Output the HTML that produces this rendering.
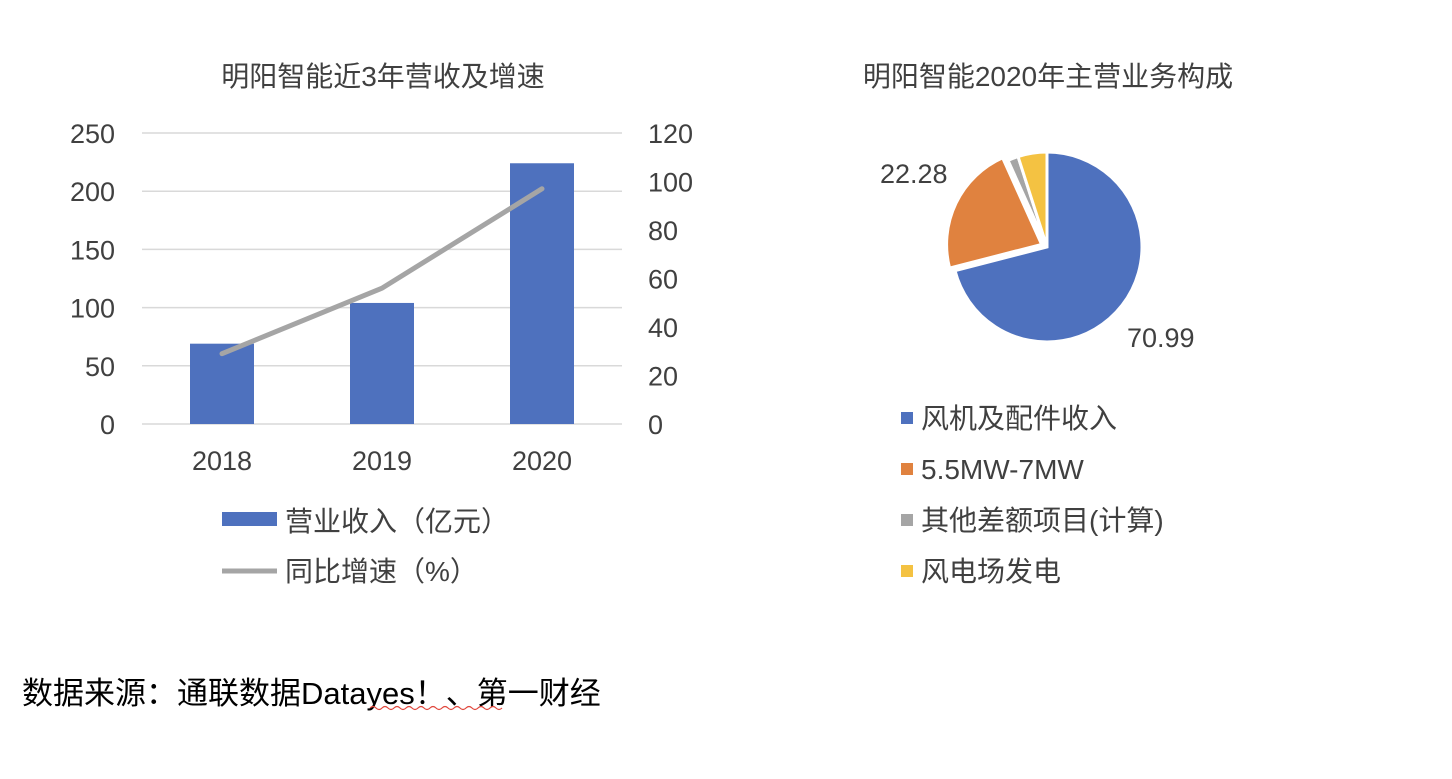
<!DOCTYPE html>
<html><head><meta charset="utf-8"><style>
body{margin:0;background:#fff;width:1452px;height:774px;overflow:hidden;font-family:"Liberation Sans","Noto Sans CJK SC",sans-serif;}
svg text{font-family:"Liberation Sans","Noto Sans CJK SC",sans-serif;fill:#404040;}
</style></head><body>
<svg width="1452" height="774">
<text x="383" y="86" font-size="28" text-anchor="middle">明阳智能近3年营收及增速</text>
<g id="bars"></g>
<g>
<rect x="222" y="512" width="55" height="14" fill="#4E71BE"/>
<text x="285" y="531" font-size="28">营业收入（亿元）</text>
<line x1="222" y1="571" x2="277" y2="571" stroke="#A5A5A5" stroke-width="5"/>
<text x="285" y="581" font-size="28">同比增速（%）</text>
</g>
<text x="1048" y="86" font-size="28" text-anchor="middle">明阳智能2020年主营业务构成</text>
<g id="pie"></g>
<g>
<rect x="901" y="412" width="12" height="12" fill="#4E71BE"/>
<text x="921" y="428" font-size="28">风机及配件收入</text>
<rect x="901" y="463" width="12" height="12" fill="#E0823F"/>
<text x="921" y="479" font-size="28">5.5MW-7MW</text>
<rect x="901" y="514" width="12" height="12" fill="#A5A5A5"/>
<text x="921" y="530" font-size="28">其他差额项目(计算)</text>
<rect x="901" y="565" width="12" height="12" fill="#F4C242"/>
<text x="921" y="581" font-size="28">风电场发电</text>
</g>
<text x="22" y="704" font-size="31" fill="#000" style="fill:#000">数据来源：通联数据Datayes！、第一财经</text>
<path d="M370 708 q3 -3 6 0 t6 0 t6 0 t6 0 t6 0 t6 0 t6 0 t6 0 t6 0 t6 0 t6 0 t6 0 t6 0 t6 0 t6 0 t6 0 t6 0 t6 0 t6 0 t6 0 t6 0 t6 0" stroke="#E0453A" fill="none" stroke-width="1.2"/>
</svg>
<script>
const categories=["2018","2019","2020"];
const revenue=[69,104,224];
const growth=[29,56,97];
const leftTicks=[0,50,100,150,200,250];
const rightTicks=[0,20,40,60,80,100,120];
const pieLabels=["风机及配件收入","5.5MW-7MW","其他差额项目(计算)","风电场发电"];
const pieValues=[70.99,22.28,1.8,4.93];
const pieShown=["70.99","22.28","",""];
const NS="http://www.w3.org/2000/svg";
function mk(t,a,p){const e=document.createElementNS(NS,t);for(const k in a)e.setAttribute(k,a[k]);p.appendChild(e);return e;}
const g=document.getElementById('bars');
const x0=142,x1=622,yB=424,yT=133;
const yL=v=>yB-(v/250)*(yB-yT), yR=v=>yB-(v/120)*(yB-yT);
const cw=(x1-x0)/categories.length, cx=i=>x0+cw*(i+0.5);
leftTicks.forEach(t=>{
 const l=mk('line',{x1:x0,x2:x1,y1:yL(t),y2:yL(t),stroke:'#D9D9D9','stroke-width':1.5},g);
 
 
 const tx=mk('text',{x:115,y:yL(t)+10,'font-size':27,'text-anchor':'end'},g);tx.textContent=t;
 
 
});
rightTicks.forEach(t=>{
 const tx=mk('text',{x:648,y:yR(t)+10,'font-size':27},g);tx.textContent=t;
 
 
});
categories.forEach((c,i)=>{
 const r=mk('rect',{x:cx(i)-32,y:yL(revenue[i]),width:64,height:yB-yL(revenue[i]),fill:'#4E71BE'},g);
 
 
 const tx=mk('text',{x:cx(i),y:470,'font-size':27,'text-anchor':'middle'},g);tx.textContent=c;
 
 
});
const pl=mk('polyline',{points:growth.map((v,i)=>cx(i)+','+yR(v)).join(' '),fill:'none',stroke:'#A5A5A5','stroke-width':5,'stroke-linecap':'round'},g);


const pg=document.getElementById('pie');
const pcx=1047,pcy=247,R=95;
const tot=pieValues.reduce((a,b)=>a+b,0);
const cols=['#4E71BE','#E0823F','#A5A5A5','#F4C242'];
let a=0;
pieValues.forEach((v,i)=>{
 const a0=a,a1=a+v/tot*2*Math.PI;a=a1;
 const mid=(a0+a1)/2,off=i===1?6:0;
 const ox=pcx+off*Math.sin(mid),oy=pcy-off*Math.cos(mid);
 const p=(t)=>(ox+R*Math.sin(t))+','+(oy-R*Math.cos(t));
 const s=mk('path',{d:`M${ox},${oy} L${p(a0)} A${R},${R} 0 ${a1-a0>Math.PI?1:0} 1 ${p(a1)} Z`,fill:cols[i],stroke:'#fff','stroke-width':3},pg);
 
 
});
const l1=mk('text',{x:1127,y:347,'font-size':27},pg);l1.textContent=pieShown[0];


const l2=mk('text',{x:880,y:183,'font-size':27},pg);l2.textContent=pieShown[1];


</script>
</body></html>
